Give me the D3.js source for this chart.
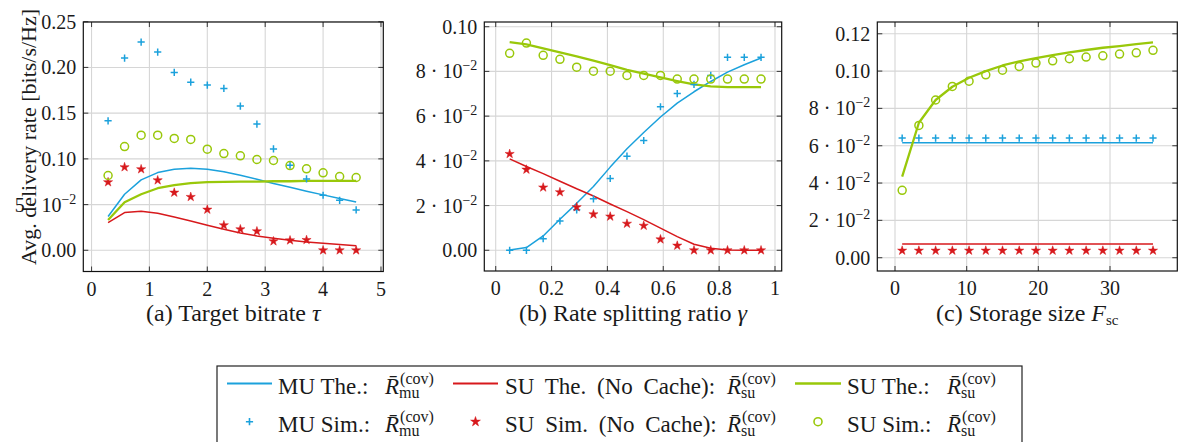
<!DOCTYPE html>
<html><head><meta charset="utf-8">
<script src="https://cdn.jsdelivr.net/npm/d3@7"></script>
<style>
body{margin:0;background:#fff}
svg{display:block}
svg text{font-family:'Liberation Serif','DejaVu Serif',serif}
</style>
</head><body>
<svg id="chart" width="1182" height="442"></svg>
<script>
// ---------- data ----------
const tauA = [0.286,0.571,0.857,1.143,1.429,1.714,2.0,2.286,2.571,2.857,3.143,3.429,3.714,4.0,4.286,4.571];
const muTheA   = [0.0369,0.0613,0.0770,0.0850,0.0887,0.0898,0.0887,0.0858,0.0821,0.0777,0.0730,0.0690,0.0646,0.0606,0.0566,0.0529];
const ncTheA   = [0.0303,0.0412,0.0427,0.0405,0.0365,0.0321,0.0274,0.0230,0.0190,0.0157,0.0131,0.0109,0.0091,0.0077,0.0062,0.0051];
const suTheA   = [0.0332,0.0526,0.0613,0.0679,0.0712,0.0734,0.0745,0.0748,0.0752,0.0752,0.0755,0.0755,0.0759,0.0759,0.0759,0.0759];
const muSimA   = [0.1416,0.2102,0.2277,0.2168,0.1945,0.1839,0.1807,0.1770,0.1577,0.1380,0.1109,0.0931,0.0781,0.0602,0.0547,0.0442];
const ncSimA   = [0.0745,0.0909,0.0887,0.0766,0.0631,0.0584,0.0445,0.0274,0.0230,0.0208,0.0099,0.0109,0.0113,0.0,0.0,0.0];
const suSimA   = [0.0818,0.1135,0.1259,0.1259,0.1223,0.1212,0.1106,0.1058,0.1033,0.0993,0.0982,0.0927,0.0891,0.0847,0.0807,0.0796];

const gammaB = [0.05,0.11,0.17,0.23,0.29,0.35,0.41,0.47,0.53,0.59,0.65,0.71,0.77,0.83,0.89,0.95];
const muTheB = [0.0001,0.0012,0.0064,0.0139,0.0210,0.0285,0.0372,0.0454,0.0527,0.0596,0.0658,0.0709,0.0755,0.0797,0.0830,0.0860];
const ncTheB = [0.0409,0.0375,0.0343,0.0309,0.0275,0.0243,0.0207,0.0173,0.0137,0.0099,0.0061,0.0027,0.0009,0.0001,0.0,0.0];
const suTheB = [0.0931,0.0921,0.0903,0.0885,0.0867,0.0848,0.0828,0.0807,0.0790,0.0773,0.0757,0.0742,0.0733,0.0730,0.0730,0.0730];
const muSimB = [0.0,0.0,0.0052,0.0131,0.0181,0.0230,0.0321,0.0421,0.0491,0.0642,0.0701,0.0742,0.0782,0.0863,0.0863,0.0863];
const ncSimB = [0.0431,0.0361,0.0281,0.0260,0.0193,0.0161,0.0151,0.0119,0.0110,0.0049,0.0021,0.0,0.0,0.0,0.0,0.0];
const suSimB = [0.0881,0.0927,0.0872,0.0854,0.0819,0.0801,0.0801,0.0782,0.0782,0.0782,0.0766,0.0766,0.0766,0.0766,0.0766,0.0766];

const fscC = [1,3.333,5.667,8,10.333,12.667,15,17.333,19.667,22,24.333,26.667,29,31.333,33.667,36];
const muTheC = [0.0616,0.0616,0.0616,0.0616,0.0616,0.0616,0.0616,0.0616,0.0616,0.0616,0.0616,0.0616,0.0616,0.0616,0.0616,0.0616];
const ncTheC = [0.0073,0.0073,0.0073,0.0073,0.0073,0.0073,0.0073,0.0073,0.0073,0.0073,0.0073,0.0073,0.0073,0.0073,0.0073,0.0073];
const suTheC = [0.0434,0.0723,0.0845,0.0916,0.0964,0.1000,0.1030,0.1052,0.1070,0.1086,0.1100,0.1113,0.1125,0.1134,0.1145,0.1154];
const muSimC = [0.0641,0.0641,0.0641,0.0641,0.0641,0.0641,0.0641,0.0641,0.0641,0.0641,0.0641,0.0641,0.0641,0.0641,0.0641,0.0641];
const ncSimC = [0.0038,0.0038,0.0038,0.0038,0.0038,0.0038,0.0038,0.0038,0.0038,0.0038,0.0038,0.0038,0.0038,0.0038,0.0038,0.0038];
const suSimC = [0.0361,0.0709,0.0845,0.0918,0.0946,0.0980,0.1005,0.1025,0.1043,0.1055,0.1066,0.1075,0.1082,0.1091,0.1098,0.1111];

const xTicksA = [0,1,2,3,4,5];
const xTickLabelsA = ["0","1","2","3","4","5"];
const yTicksA = [0,0.05,0.10,0.15,0.20,0.25];
const yTickLabelsA = ["0.00","5 · 10^−2","0.10","0.15","0.20","0.25"];
const xTicksB = [0,0.2,0.4,0.6,0.8,1];
const xTickLabelsB = ["0","0.2","0.4","0.6","0.8","1"];
const yTicksB = [0,0.02,0.04,0.06,0.08,0.10];
const yTickLabelsB = ["0.00","2 · 10^−2","4 · 10^−2","6 · 10^−2","8 · 10^−2","0.10"];
const xTicksC = [0,10,20,30];
const xTickLabelsC = ["0","10","20","30"];
const yTicksC = [0,0.02,0.04,0.06,0.08,0.10,0.12];
const yTickLabelsC = ["0.00","2 · 10^−2","4 · 10^−2","6 · 10^−2","8 · 10^−2","0.10","0.12"];

const legendLabels = ["MU The.:","SU The. (No Cache):","SU The.:","MU Sim.:","SU Sim. (No Cache):","SU Sim.:"];
const legendSubs = ["mu","su","su","mu","su","su"];
const yAxisLabel = "Avg. delivery rate [bits/s/Hz]";

// ---------- style ----------
const C = {mu:"#1ba1dc", nc:"#d7191c", su:"#99c80a"};
const TXT = "#1a1a1a";
const FONT = "'Liberation Serif','DejaVu Serif',serif";
const svg = d3.select("#chart");

function addText(parent){
  return parent.append("text").attr("font-family",FONT).attr("fill",TXT);
}
function tickLabel(sel, lab){
  const parts = lab.split("^");
  sel.text(parts[0]);
  if(parts.length>1){
    sel.append("tspan").attr("dy",-8).attr("font-size",14).text(parts[1]);
  }
}

function panel(p){
  const g = svg.append("g");
  const x = d3.scaleLinear().domain(p.xd).range([p.L,p.R]);
  const y = d3.scaleLinear().domain(p.yd).range([p.B,p.T]);
  g.selectAll(".gx").data(p.xt).enter().append("line")
    .attr("x1",d=>x(d)).attr("x2",d=>x(d)).attr("y1",p.T).attr("y2",p.B)
    .attr("stroke","#d6d6d6").attr("stroke-width",1.1);
  g.selectAll(".gy").data(p.yt).enter().append("line")
    .attr("y1",d=>y(d)).attr("y2",d=>y(d)).attr("x1",p.L).attr("x2",p.R)
    .attr("stroke","#d6d6d6").attr("stroke-width",1.1);
  const ln = d3.line().x(d=>x(d[0])).y(d=>y(d[1]));
  [[p.mt,C.mu,1.5],[p.nt,C.nc,1.5],[p.st,C.su,2.3]].forEach(([vals,col,w])=>{
    g.append("path").attr("d",ln(p.xs.map((v,i)=>[v,vals[i]])))
      .attr("fill","none").attr("stroke",col).attr("stroke-width",w).attr("stroke-linejoin","round");
  });
  g.selectAll(".mp").data(p.xs.map((v,i)=>[v,p.ms[i]])).enter().append("path")
    .attr("d",d=>{const cx=x(d[0]),cy=y(d[1]),r=3.6;return `M${cx-r},${cy}H${cx+r}M${cx},${cy-r}V${cy+r}`;})
    .attr("stroke",C.mu).attr("stroke-width",1.5).attr("fill","none");
  const star = d3.symbol().type(d3.symbolStar).size(26);
  g.selectAll(".ms").data(p.xs.map((v,i)=>[v,p.ns[i]])).enter().append("path")
    .attr("d",star).attr("transform",d=>`translate(${x(d[0])},${y(d[1])})`)
    .attr("fill",C.nc).attr("stroke",C.nc).attr("stroke-width",0.5);
  g.selectAll(".mc").data(p.xs.map((v,i)=>[v,p.ss[i]])).enter().append("circle")
    .attr("cx",d=>x(d[0])).attr("cy",d=>y(d[1])).attr("r",4)
    .attr("fill","none").attr("stroke",C.su).attr("stroke-width",1.5);
  const tk = 5;
  p.xt.forEach(d=>{
    g.append("line").attr("x1",x(d)).attr("x2",x(d)).attr("y1",p.B).attr("y2",p.B-tk).attr("stroke","#444").attr("stroke-width",1.1);
    g.append("line").attr("x1",x(d)).attr("x2",x(d)).attr("y1",p.T).attr("y2",p.T+tk).attr("stroke","#444").attr("stroke-width",1.1);
  });
  p.yt.forEach(d=>{
    g.append("line").attr("y1",y(d)).attr("y2",y(d)).attr("x1",p.L).attr("x2",p.L+tk).attr("stroke","#444").attr("stroke-width",1.1);
    g.append("line").attr("y1",y(d)).attr("y2",y(d)).attr("x1",p.R).attr("x2",p.R-tk).attr("stroke","#444").attr("stroke-width",1.1);
  });
  g.append("rect").attr("x",p.L).attr("y",p.T).attr("width",p.R-p.L).attr("height",p.B-p.T)
    .attr("fill","none").attr("stroke","#111").attr("stroke-width",1.2);
  p.xt.forEach((d,i)=>{
    addText(g).attr("x",x(d)).attr("y",p.B+24).attr("text-anchor","middle").attr("font-size",20).text(p.xl[i]);
  });
  p.yt.forEach((d,i)=>{
    addText(g).attr("x",p.L-7).attr("y",y(d)+7).attr("text-anchor","end").attr("font-size",20)
      .call(s=>tickLabel(s,p.yl[i]));
  });
  const cap = addText(g).attr("x",(p.L+p.R)/2).attr("y",320.5).attr("text-anchor","middle").attr("font-size",24);
  cap.append("tspan").text(p.cap);
  cap.append("tspan").attr("font-style","italic").text(p.capVar);
  if(p.capSub) cap.append("tspan").attr("font-size",15).attr("dy",4).text(p.capSub);
}

panel({L:83.3,R:383.3,T:22,B:271.5,xd:[-0.142,5.04],yd:[-0.0232,0.2497],
  xt:xTicksA,xl:xTickLabelsA,yt:yTicksA,yl:yTickLabelsA,xs:tauA,
  mt:muTheA,nt:ncTheA,st:suTheA,ms:muSimA,ns:ncSimA,ss:suSimA,
  cap:"(a) Target bitrate ",capVar:"τ"});
panel({L:484.3,R:781.7,T:22,B:271,xd:[-0.0408,1.024],yd:[-0.00926,0.1021],
  xt:xTicksB,xl:xTickLabelsB,yt:yTicksB,yl:yTickLabelsB,xs:gammaB,
  mt:muTheB,nt:ncTheB,st:suTheB,ms:muSimB,ns:ncSimB,ss:suSimB,
  cap:"(b) Rate splitting ratio ",capVar:"γ"});
panel({L:877.3,R:1177.3,T:22,B:271,xd:[-2.47,39.39],yd:[-0.00713,0.1263],
  xt:xTicksC,xl:xTickLabelsC,yt:yTicksC,yl:yTickLabelsC,xs:fscC,
  mt:muTheC,nt:ncTheC,st:suTheC,ms:muSimC,ns:ncSimC,ss:suSimC,
  cap:"(c) Storage size ",capVar:"F",capSub:"sc"});

addText(svg).attr("transform","translate(36,137) rotate(-90)").attr("text-anchor","middle")
  .attr("font-size",22).text(yAxisLabel);

// ---------- legend ----------
const lg = svg.append("g");
lg.append("rect").attr("x",217).attr("y",366).attr("width",805).attr("height",90)
  .attr("fill","none").attr("stroke","#222").attr("stroke-width",1.2);
const cols = [{l0:227,l1:272,tx:278,rx:385},{l0:453,l1:498,tx:505,rx:727},{l0:795,l1:841,tx:847,rx:947}];
const rows = [{yl:383.5,yb:393.5},{yl:421.7,yb:432}];
const colKeys = ["mu","nc","su"];
legendLabels.forEach((lab,i)=>{
  const r = rows[Math.floor(i/3)], c = cols[i%3], key = colKeys[i%3];
  const mid = (c.l0+c.l1)/2;
  if(i<3){
    lg.append("line").attr("x1",c.l0).attr("x2",c.l1).attr("y1",r.yl).attr("y2",r.yl)
      .attr("stroke",C[key]).attr("stroke-width",key==="su"?2.6:1.8);
  } else if(key==="mu"){
    const rr=3.6;
    lg.append("path").attr("d",`M${mid-rr},${r.yl}H${mid+rr}M${mid},${r.yl-rr}V${r.yl+rr}`)
      .attr("stroke",C.mu).attr("stroke-width",1.6);
  } else if(key==="nc"){
    lg.append("path").attr("d",d3.symbol().type(d3.symbolStar).size(30)).attr("transform",`translate(${mid},${r.yl})`)
      .attr("fill",C.nc).attr("stroke",C.nc).attr("stroke-width",0.5);
  } else {
    lg.append("circle").attr("cx",mid).attr("cy",r.yl).attr("r",4).attr("fill","none").attr("stroke",C.su).attr("stroke-width",1.6);
  }
  const t = addText(lg).attr("x",c.tx).attr("y",r.yb).attr("font-size",23);
  t.append("tspan").attr("word-spacing", key==="nc" ? 5 : 0).text(lab);
  const R = t.append("tspan").attr("x",c.rx).attr("font-style","italic").text("R\u0304");
  const w = R.node().getComputedTextLength();
  t.append("tspan").attr("dx",1).attr("dy",-10).attr("font-size",16).text("(cov)");
  t.append("tspan").attr("x",c.rx+w).attr("dy",14).attr("font-size",16).text(legendSubs[i]);
});
</script>
</body></html>
